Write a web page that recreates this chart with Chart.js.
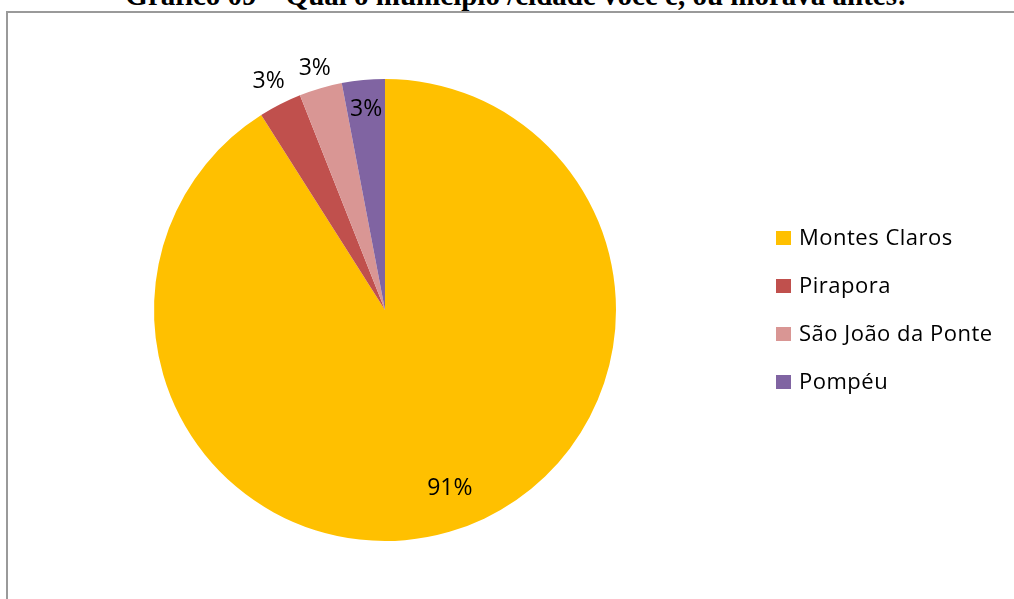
<!DOCTYPE html>
<html>
<head>
<meta charset="utf-8">
<script src="https://cdn.jsdelivr.net/npm/chart.js@4"></script>
<style>
    html, body { margin: 0; padding: 0; background: #fff; overflow: hidden; }
    body { width: 1014px; height: 599px; position: relative; }
    #title {
        position: absolute; left: 0; width: 1032px; top: -17px;
        text-align: center; font: bold 29px "Liberation Serif", "Times New Roman", serif;
        line-height: 24px; color: #000; white-space: nowrap;
    }
    #frame {
        position: absolute; left: 6px; top: 11px; width: 1100px; height: 700px;
        border: 2px solid #9a9a9a; box-sizing: border-box;
    }
    #wrap { position: absolute; left: 0; top: 0; width: 1014px; height: 599px; }
</style>
</head>
<body>
<div id="title">Gráfico 09 – Qual o município /cidade você é, ou morava antes:</div>
<div id="frame"></div>
<div id="wrap"><canvas id="pie"></canvas></div>
<script>
// cities and their share (%)
const cities = ['Montes Claros', 'Pirapora', 'São João da Ponte', 'Pompéu'];
const shares = [91, 3, 3, 3];
const sliceColors = ['#FFC000', '#C0504D', '#D99694', '#8064A2'];

// where each percentage label sits: fraction of the radius, and a small angle nudge (deg)
const labelRadius = [0.82, 1.11, 1.09, 0.87];
const labelNudge = [-3.8, 0, 0, 0];

const labelFont = '23px "Open Sans", sans-serif';
const legendFont = '22px "Open Sans", sans-serif';

// percentage labels on/around the slices
const sliceLabels = {
    id: 'sliceLabels',
    afterDatasetsDraw(chart) {
        const {ctx} = chart;
        const meta = chart.getDatasetMeta(0);
        ctx.save();
        ctx.font = labelFont;
        ctx.fillStyle = '#000';
        ctx.textAlign = 'center';
        ctx.textBaseline = 'middle';
        meta.data.forEach((arc, i) => {
            const p = arc.getProps(['x', 'y', 'startAngle', 'endAngle', 'outerRadius'], true);
            const mid = (p.startAngle + p.endAngle) / 2 + labelNudge[i] * Math.PI / 180;
            const r = p.outerRadius * labelRadius[i];
            ctx.fillText(shares[i] + '%', p.x + Math.cos(mid) * r, p.y + Math.sin(mid) * r);
        });
        ctx.restore();
    }
};

// legend column on the right
const sideLegend = {
    id: 'sideLegend',
    afterDraw(chart) {
        const {ctx} = chart;
        const x = 776, y0 = 238, step = 48, box = 14;
        ctx.save();
        ctx.font = legendFont;
        ctx.letterSpacing = '0.5px';
        ctx.textBaseline = 'middle';
        chart.data.labels.forEach((name, i) => {
            const y = y0 + i * step;
            ctx.fillStyle = chart.data.datasets[0].backgroundColor[i];
            ctx.fillRect(x, y - box / 2, box + 1, box);
            ctx.fillStyle = '#000';
            ctx.fillText(name, x + 23, y + 1);
        });
        ctx.restore();
    }
};

new Chart(document.getElementById('pie'), {
    type: 'pie',
    data: {
        labels: cities,
        datasets: [{
            data: shares,
            backgroundColor: sliceColors,
            borderWidth: 0
        }]
    },
    options: {
        responsive: true,
        maintainAspectRatio: false,
        animation: false,
        layout: { padding: { left: 154, top: 79, right: 398, bottom: 58 } },
        plugins: {
            legend: { display: false },
            tooltip: { enabled: false },
            title: { display: false }
        }
    },
    plugins: [sliceLabels, sideLegend]
});
</script>
</body>
</html>
